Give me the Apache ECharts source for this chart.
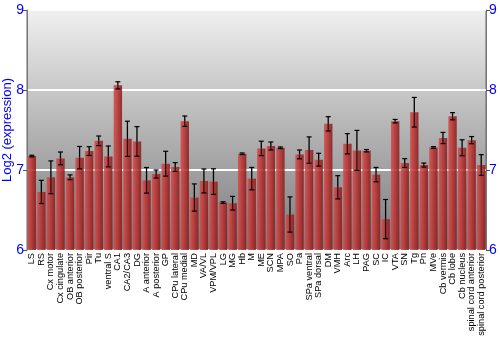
<!DOCTYPE html>
<html><head><meta charset="utf-8">
<script src="https://cdn.jsdelivr.net/npm/echarts@6/dist/echarts.min.js"></script>
<style>html,body{margin:0;padding:0;background:#fff}#c{width:500px;height:350px}</style>
</head><body><div id="c"></div>
<script>
const categories = ["LS","RS","Cx motor","Cx cingulate","OB anterior","OB posterior","Pir","Tu","ventral S","CA1","CA2/CA3","DG","A anterior","A posterior","GP","CPu lateral","CPu medial","MD","VA/VL","VPM/VPL","LG","MG","Hb","M","ME","SCN","MPA","SO","Pa","SPa ventral","SPa dorsal","DM","VMH","Arc","LH","PAG","SC","IC","VTA","SN","Tg","Pn","MVe","Cb vermis","Cb lobe","Cb nucleus","spinal cord anterior","spinal cord posterior"];
const values = [7.174,6.726,6.909,7.145,6.909,7.154,7.237,7.365,7.17,8.058,7.39,7.357,6.871,6.95,7.079,7.037,7.61,6.656,6.863,6.855,6.593,6.585,7.203,6.892,7.27,7.30,7.278,6.444,7.195,7.249,7.129,7.577,6.784,7.328,7.245,7.241,6.942,6.386,7.61,7.087,7.722,7.062,7.282,7.40,7.672,7.278,7.373,7.062];
const errors = [0.01,0.145,0.205,0.08,0.03,0.14,0.055,0.06,0.13,0.045,0.22,0.185,0.16,0.05,0.155,0.055,0.065,0.17,0.15,0.16,0.01,0.085,0.01,0.14,0.09,0.05,0.01,0.22,0.055,0.165,0.08,0.09,0.145,0.127,0.25,0.015,0.09,0.245,0.022,0.055,0.185,0.025,0.01,0.07,0.045,0.10,0.045,0.13];
const yTicks = [6,7,8,9];

const chart = echarts.init(document.getElementById('c'), null, {renderer:'canvas'});
const errData = values.map((v,i)=>[i, v-errors[i], v+errors[i], v]);
const yAxisBase = {
  type:'value', min:yTicks[0], max:yTicks[yTicks.length-1], interval:1,
  axisLine:{show:true, lineStyle:{color:'#777'}},
  axisTick:{show:true, length:4, lineStyle:{color:'#555'}},
  axisLabel:{color:'#0000ff', fontSize:14, fontFamily:'Liberation Sans', margin:3},
};
chart.setOption({
  animation:false,
  grid:{left:27, right:14, top:10, bottom:100, show:true, containLabel:false, outerBoundsMode:'none',
    borderColor:'#666', borderWidth:1,
    backgroundColor:{type:'linear',x:0,y:0,x2:0,y2:1,colorStops:[
      {offset:0,color:'#f0f0f0'},{offset:0.5,color:'#b4b4b4'},{offset:1,color:'#7a7a7a'}]}},
  xAxis:{type:'category', data:categories,
    axisLine:{show:false}, axisTick:{show:false},
    axisLabel:{interval:0, rotate:90, color:'#000', fontSize:9.2, fontFamily:'Liberation Sans', margin:3}},
  yAxis:[
    Object.assign({}, yAxisBase, {position:'left',
      name:'Log2 (expression)', nameLocation:'middle', nameGap:13, nameMoveOverlap:false,
      nameTextStyle:{color:'#0000ff', fontSize:13, fontFamily:'Liberation Sans'},
      splitLine:{show:true, lineStyle:{color:'#ffffff', width:2}}}),
    Object.assign({}, yAxisBase, {position:'right', splitLine:{show:false}})
  ],
  series:[
    {type:'bar', data:values, barCategoryGap:'12%', z:2,
      itemStyle:{opacity:0.88, color:{type:'linear',x:0,y:0,x2:1,y2:0,colorStops:[
        {offset:0,color:'#d05050'},{offset:0.35,color:'#c23a3a'},{offset:1,color:'#8a1a1a'}]}}},
    {type:'custom', data:errData, z:3,
      renderItem:function(params, api){
        const i = api.value(0);
        const lo = api.coord([i, api.value(1)]);
        const hi = api.coord([i, api.value(2)]);
        const mid = api.coord([i, api.value(3)]);
        const hw = 2.5;
        return {type:'group', children:[
          {type:'line', shape:{x1:hi[0],y1:hi[1],x2:mid[0],y2:mid[1]}, style:{stroke:'#000',lineWidth:1.3}},
          {type:'line', shape:{x1:mid[0],y1:mid[1],x2:lo[0],y2:lo[1]}, style:{stroke:'rgba(0,0,0,0.75)',lineWidth:1.3}},
          {type:'line', shape:{x1:hi[0]-hw,y1:hi[1],x2:hi[0]+hw,y2:hi[1]}, style:{stroke:'#000',lineWidth:1.2}},
          {type:'line', shape:{x1:lo[0]-hw,y1:lo[1],x2:lo[0]+hw,y2:lo[1]}, style:{stroke:'#000',lineWidth:1.2}}
        ]};
      }}
  ]
});
</script></body></html>
